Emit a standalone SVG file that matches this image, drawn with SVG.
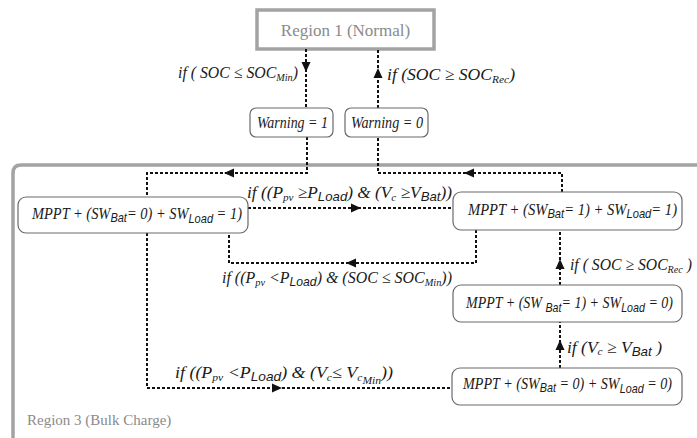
<svg xmlns="http://www.w3.org/2000/svg" xmlns:xlink="http://www.w3.org/1999/xlink" width="697" height="438" viewBox="0 0 697 438">
<style>
.reg{fill:none;stroke:#a3a3a3;stroke-width:3.5}
.rt{font-family:'Liberation Serif','Times New Roman','DejaVu Serif',serif;fill:#8a8a8a}
.n rect{fill:#fff;stroke:#6a6a6a;stroke-width:1.2}
.t{font-family:'Liberation Serif','Times New Roman','DejaVu Serif',serif;font-style:italic;font-size:17px;fill:#1a1a1a}
.ss{font-family:'Liberation Sans',Arial,sans-serif;font-style:italic;font-size:13px}
.sr{font-size:11px}
.c path{fill:none;stroke:#111;stroke-width:2;stroke-dasharray:3 2}
.c use{fill:#111}
</style>
<defs>
<path id="ah" d="M0,0 L-10,-4.5 L-10,4.5 Z"/>
</defs>
<rect width="697" height="438" fill="#fff"/>
<g id="region3">
<path class="reg" d="M13,438 V173 Q13,165 21,165 H697"/>
<text class="rt" x="27" y="425" font-size="15">Region 3 (Bulk Charge)</text>
</g>
<g id="region1">
<rect class="reg" x="257" y="10" width="177" height="39" stroke-width="3"/>
<text class="rt" x="345.5" y="36" font-size="17" text-anchor="middle">Region 1 (Normal)</text>
</g>
<g class="c" id="connectors">
<path d="M306,49 V108"/>
<use xlink:href="#ah" transform="translate(306,72) rotate(90)"/>
<path d="M378,108 V49"/>
<use xlink:href="#ah" transform="translate(378,68) rotate(-90)"/>
<path d="M307,137 V173 H147 V197"/>
<use xlink:href="#ah" transform="translate(224,173) rotate(180)"/>
<path d="M562,192 V173 H378 V137"/>
<use xlink:href="#ah" transform="translate(464,173) rotate(180)"/>
<path d="M248,208 H453"/>
<use xlink:href="#ah" transform="translate(361,208)"/>
<path d="M476,230 V263 H229 V233"/>
<use xlink:href="#ah" transform="translate(346,263) rotate(180)"/>
<path d="M560,285 V230"/>
<use xlink:href="#ah" transform="translate(560,259) rotate(-90)"/>
<path d="M560,368 V322"/>
<use xlink:href="#ah" transform="translate(560,340) rotate(-90)"/>
<path d="M147,233 V388 H452"/>
<use xlink:href="#ah" transform="translate(282,388)"/>
</g>
<g id="labels">
<text class="t" x="178" y="78" textLength="120" lengthAdjust="spacingAndGlyphs">if ( SOC ≤ SOC<tspan class="sr" dy="3">Min</tspan><tspan dy="-3">)</tspan></text>
<text class="t" x="387" y="80" textLength="128" lengthAdjust="spacingAndGlyphs">if (SOC ≥ SOC<tspan class="sr" dy="3">Rec</tspan><tspan dy="-3">)</tspan></text>
<text class="t" x="247" y="198" textLength="205" lengthAdjust="spacingAndGlyphs">if ((P<tspan class="sr" dy="3">pv</tspan><tspan dy="-3"> ≥P</tspan><tspan class="ss" dy="3">Load</tspan><tspan dy="-3">) &amp; (V</tspan><tspan class="sr" dy="3">c</tspan><tspan dy="-3">  ≥V</tspan><tspan class="ss" dy="3">Bat</tspan><tspan dy="-3">))</tspan></text>
<text class="t" x="222" y="283" textLength="230" lengthAdjust="spacingAndGlyphs">if ((P<tspan class="sr" dy="3">pv</tspan><tspan dy="-3"> &lt;P</tspan><tspan class="ss" dy="3">Load</tspan><tspan dy="-3">) &amp; (SOC ≤ SOC</tspan><tspan class="sr" dy="3">Min</tspan><tspan dy="-3">))</tspan></text>
<text class="t" x="570" y="270" textLength="122" lengthAdjust="spacingAndGlyphs">if ( SOC ≥ SOC<tspan class="sr" dy="3">Rec</tspan><tspan dy="-3"> )</tspan></text>
<text class="t" x="567" y="353" textLength="95" lengthAdjust="spacingAndGlyphs">if (V<tspan class="sr" dy="2">c</tspan><tspan dy="-2"> ≥ V</tspan><tspan class="ss" dy="3">Bat</tspan><tspan dy="-3"> )</tspan></text>
<text class="t" x="175" y="378" textLength="218" lengthAdjust="spacingAndGlyphs">if ((P<tspan class="sr" dy="3">pv</tspan><tspan dy="-3"> &lt;P</tspan><tspan class="ss" dy="3">Load</tspan><tspan dy="-3">) &amp; (V</tspan><tspan class="sr" dy="3">c</tspan><tspan dy="-3">≤ V</tspan><tspan class="sr" dy="3">c</tspan><tspan class="sr" font-size="9" dy="3">Min</tspan><tspan dy="-6">))</tspan></text>
</g>
<g class="n" id="warning1">
<rect x="250" y="108" width="83" height="29" rx="6"/>
<text class="t" x="257" y="128" textLength="71" lengthAdjust="spacingAndGlyphs">Warning = 1</text>
</g>
<g class="n" id="warning0">
<rect x="345" y="108" width="83" height="29" rx="6"/>
<text class="t" x="351" y="128" textLength="72" lengthAdjust="spacingAndGlyphs">Warning = 0</text>
</g>
<g class="n" id="box1">
<rect x="18" y="197" width="230" height="36" rx="8"/>
<text class="t" x="32" y="219" textLength="210" lengthAdjust="spacingAndGlyphs">MPPT + (SW<tspan class="ss" dy="3">Bat</tspan><tspan dy="-3">= 0) + SW</tspan><tspan class="ss" dy="4">Load</tspan><tspan dy="-4"> = 1)</tspan></text>
</g>
<g class="n" id="box2">
<rect x="453" y="192" width="229" height="38" rx="8"/>
<text class="t" x="468" y="215" textLength="209" lengthAdjust="spacingAndGlyphs">MPPT + (SW<tspan class="ss" dy="3">Bat</tspan><tspan dy="-3">= 1) + SW</tspan><tspan class="ss" dy="3">Load</tspan><tspan dy="-3">= 1)</tspan></text>
</g>
<g class="n" id="box3">
<rect x="453" y="285" width="229" height="37" rx="8"/>
<text class="t" x="466" y="308" textLength="207" lengthAdjust="spacingAndGlyphs">MPPT + (SW <tspan class="ss" dy="4">Bat</tspan><tspan dy="-4">= 1) + SW</tspan><tspan class="ss" dy="4">Load</tspan><tspan dy="-4"> = 0)</tspan></text>
</g>
<g class="n" id="box4">
<rect x="452" y="368" width="230" height="37" rx="8"/>
<text class="t" x="463" y="389" textLength="209" lengthAdjust="spacingAndGlyphs">MPPT + (SW<tspan class="ss" dy="3">Bat</tspan><tspan dy="-3"> = 0) + SW</tspan><tspan class="ss" dy="4">Load</tspan><tspan dy="-4"> = 0)</tspan></text>
</g>
</svg>
